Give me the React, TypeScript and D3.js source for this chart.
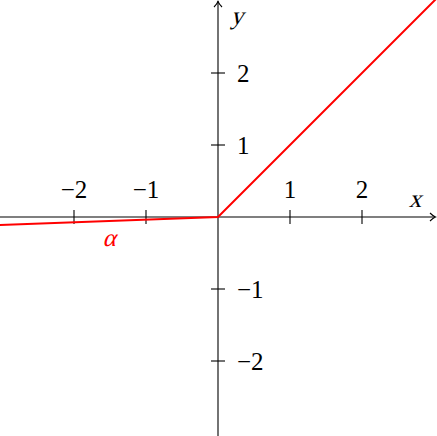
import React from "react";
import * as d3 from "d3";

// leaky relu: f(x) = x for x >= 0, alpha * x otherwise
const lineX = [-3.03, 0, 3.03];
const lineY = [-0.112, 0, 3.03];
const xTicks = [-2, -1, 1, 2];
const yTicks = [-2, -1, 1, 2];

const W = 437;
const H = 436;
const txt: React.CSSProperties = { fontFamily: "Liberation Serif", fontSize: 25 };

// fake italic by skewing upright glyphs (italic face not reliable here)
const Ital = ({ x, y, fill, children }: { x: number; y: number; fill: string; children: string }) => (
  <g transform={`translate(${x},${y}) skewX(-15)`}>
    <text x={0} y={0} textAnchor="middle" style={txt} fill={fill}>
      {children}
    </text>
  </g>
);

export default function App() {
  const x = d3.scaleLinear().domain([-3, 3]).range([2, 434]);
  const y = d3.scaleLinear().domain([-3, 3]).range([433, 1]);
  const x0 = x(0);
  const y0 = y(0);

  const pts = lineX.map((v, i) => [v, lineY[i]] as [number, number]);
  const line = d3
    .line<[number, number]>()
    .x((d) => x(d[0]))
    .y((d) => y(d[1]));

  const fmt = (v: number) => (v < 0 ? `\u2212${-v}` : `${v}`);

  return (
    <svg
      width={W}
      height={H}
      style={{ position: "absolute", left: 0, top: 0, background: "#fff" }}
    >
      {/* axes */}
      <g stroke="#000" strokeWidth={1.1} fill="none">
        <line x1={0} y1={y0} x2={W - 2} y2={y0} />
        <line x1={x0} y1={H} x2={x0} y2={1} />
        <path
          d={`M${W - 7},${y0 - 4} Q${W - 4},${y0 - 1} ${W - 1.5},${y0} Q${W - 4},${y0 + 1} ${W - 7},${y0 + 4}`}
        />
        <path
          d={`M${x0 - 4},${7} Q${x0 - 1},${4} ${x0},${1.5} Q${x0 + 1},${4} ${x0 + 4},${7}`}
        />
        {xTicks.map((t) => (
          <line key={"xt" + t} x1={x(t)} x2={x(t)} y1={y0 - 7} y2={y0 + 7} />
        ))}
        {yTicks.map((t) => (
          <line key={"yt" + t} x1={x0 - 7} x2={x0 + 7} y1={y(t)} y2={y(t)} />
        ))}
      </g>

      {/* tick labels */}
      {xTicks.map((t) => (
        <text key={"xl" + t} x={x(t)} y={y0 - 19} textAnchor="middle" style={txt} fill="#000">
          {fmt(t)}
        </text>
      ))}
      {yTicks.map((t) => (
        <text key={"yl" + t} x={x0 + 19} y={y(t) + 9} style={txt} fill="#000">
          {fmt(t)}
        </text>
      ))}
      <Ital x={415} y={207} fill="#000">x</Ital>
      <Ital x={237} y={24} fill="#000">y</Ital>

      {/* function */}
      <path d={line(pts) ?? ""} fill="none" stroke="#ff0000" strokeWidth={2} />
      <Ital x={109} y={246} fill="#ff0000">α</Ital>
    </svg>
  );
}
